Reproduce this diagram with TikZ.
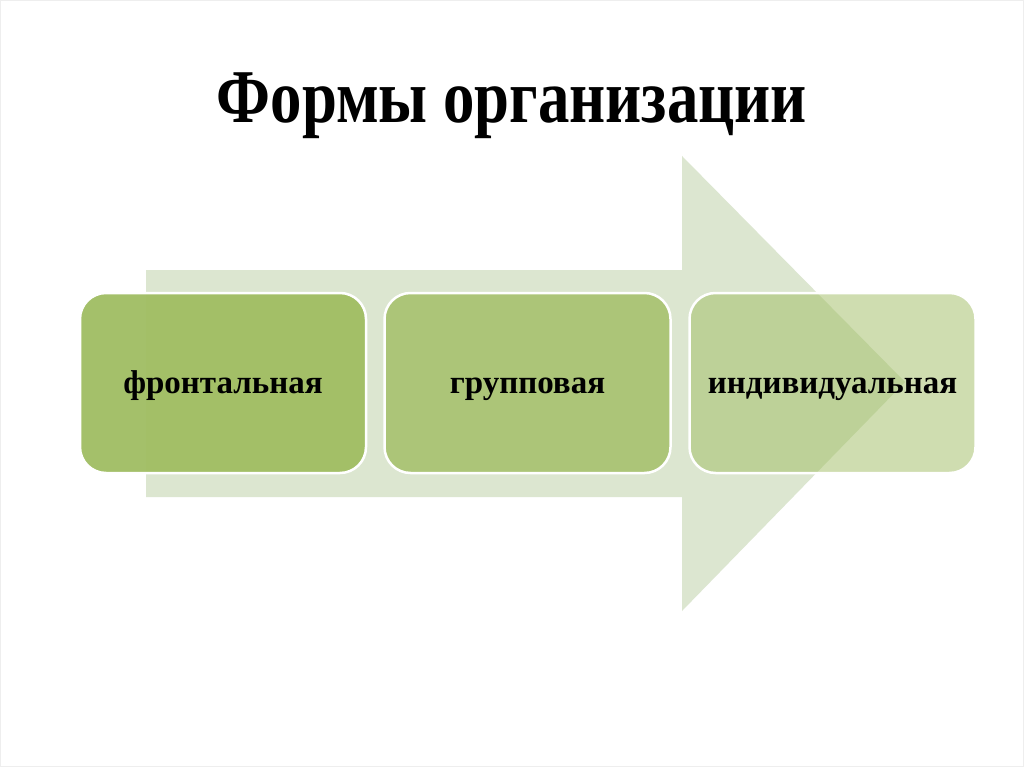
\documentclass[tikz,border=0pt]{standalone}
\usepackage{fontspec}
\setmainfont{Liberation Serif}
\usetikzlibrary{positioning}
\definecolor{boxgreen}{RGB}{160,189,98}
\definecolor{arrowgreen}{RGB}{220,230,208}
\definecolor{framegray}{RGB}{238,238,238}
\tikzset{
  stagebox/.style={draw=white, line width=2.5pt, fill=boxgreen, rounded corners=26pt,
    minimum width=286pt, minimum height=180pt, inner sep=0pt},
  stagetext/.style={anchor=base, inner sep=0pt, font=\fontsize{33}{40}\selectfont\bfseries},
  titletext/.style={inner sep=0pt, anchor=base, font=\fontsize{76}{80}\selectfont\bfseries}
}
\begin{document}
\begin{tikzpicture}[x=1pt,y=-1pt]
\useasboundingbox (0,0) rectangle (1024,767);
\fill[white] (0,0) rectangle (1024,767);
\draw[framegray, line width=1pt] (0.5,0.5) rectangle (1023.5,766.5);
% title
\node[titletext] (title) at (512,123) {\scalebox{0.826}[1]{Формы организации}};
% big arrow
\fill[arrowgreen] (146,270) -- (682,270) -- (682,156) -- (905,382) -- (682,611) -- (682,497) -- (146,497) -- cycle;
% boxes
\node[stagebox, fill opacity=0.95] (b1) at (223,383) {};
\node[stagebox, fill opacity=0.8] (b2) at (527.5,383) {};
\node[stagebox, fill opacity=0.5] (b3) at (832.5,383) {};
\node[stagetext] (t1) at (223,393) {фронтальная};
\node[stagetext] (t2) at (527.5,393) {групповая};
\node[stagetext] (t3) at (832.5,393) {индивидуальная};
\end{tikzpicture}
\end{document}
